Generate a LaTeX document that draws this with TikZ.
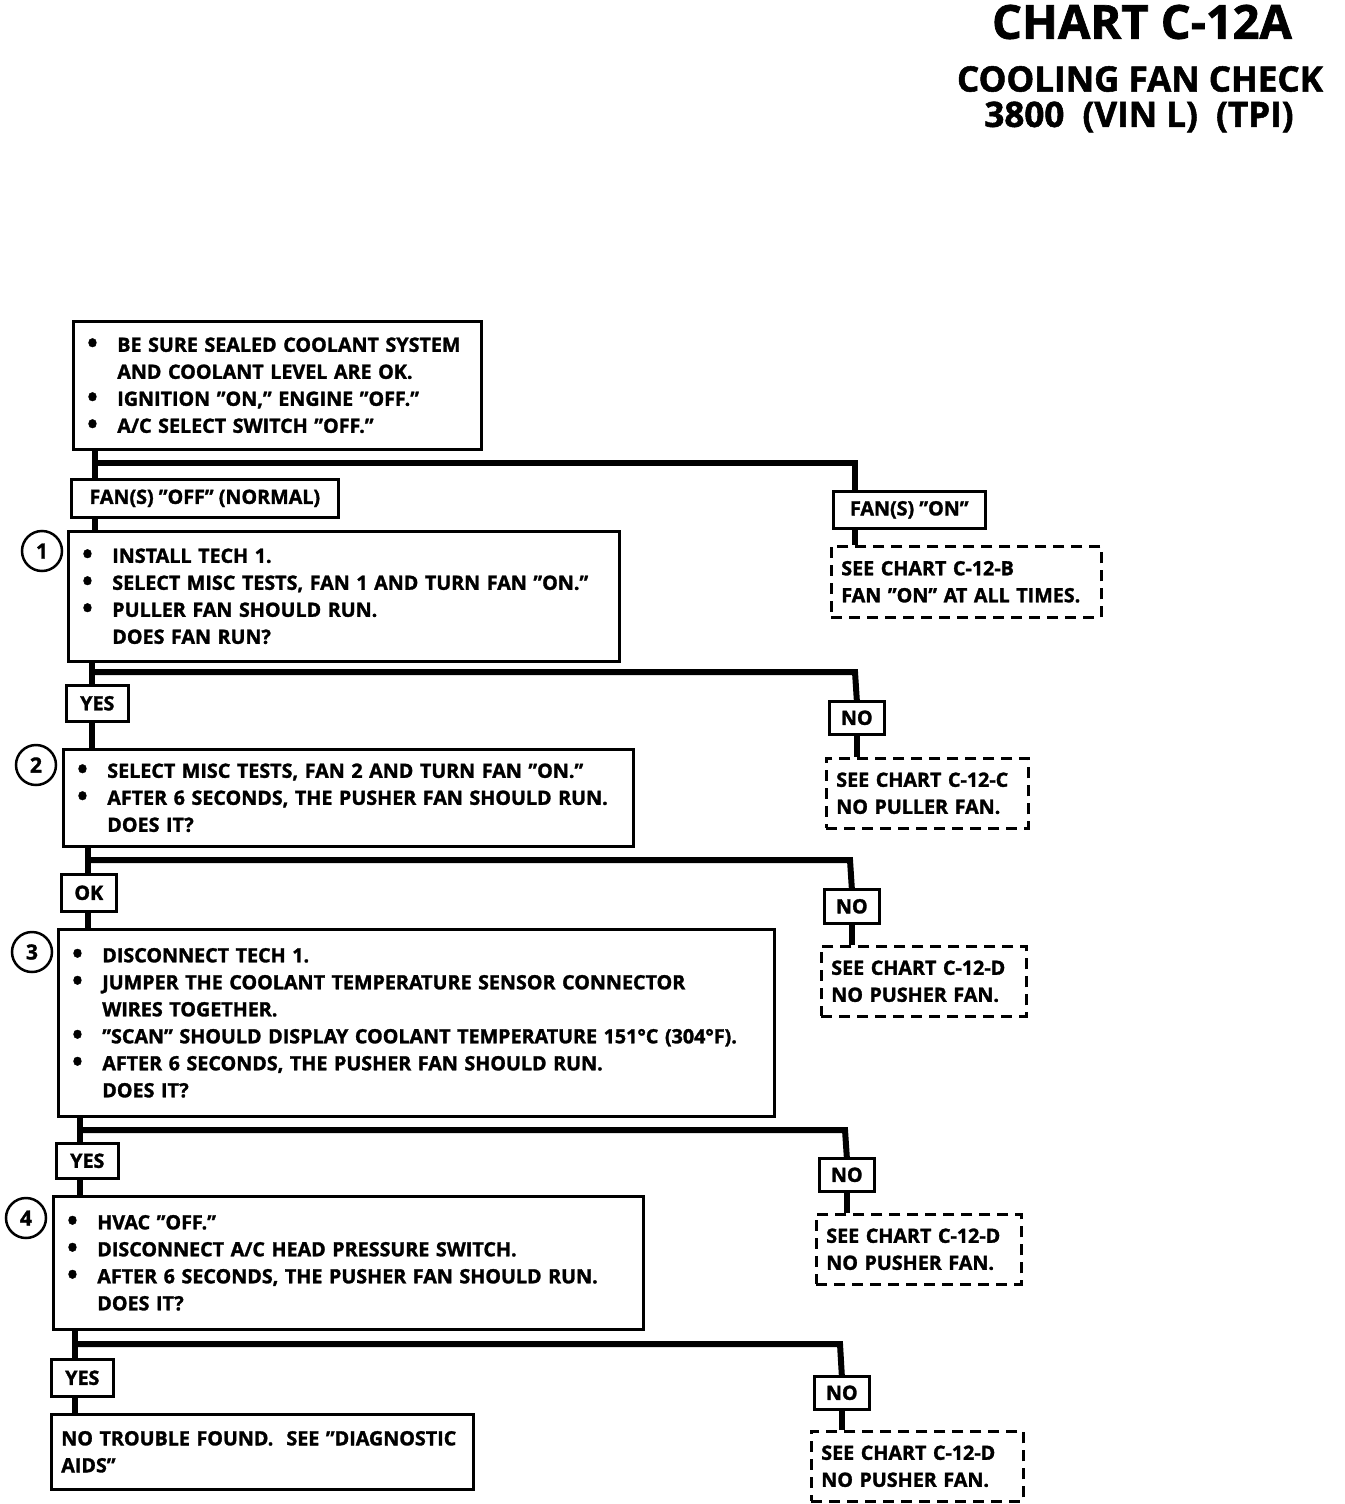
\documentclass[tikz,border=0pt]{standalone}
\usepackage{fontspec}
\setmainfont{Open Sans}[BoldFeatures={FakeBold=1.5}]
\usetikzlibrary{positioning,calc}

\tikzset{
  stepbox/.style={draw, line width=2.6pt, anchor=north west, align=left,
    inner xsep=14pt, inner ysep=4pt, font=\bfseries\fontsize{19.7}{27}\selectfont},
  tagbox/.style={draw, line width=2.6pt, anchor=north west, inner xsep=5pt,
    inner ysep=2pt, font=\bfseries\fontsize{19.7}{20}\selectfont},
  seebox/.style={draw, dashed, dash pattern=on 11pt off 7pt, line width=2.6pt,
    anchor=north west, align=left, inner xsep=10pt, inner ysep=4pt,
    font=\bfseries\fontsize{19.7}{27}\selectfont},
  numcirc/.style={draw, circle, line width=2.5pt, minimum size=40pt, inner sep=0pt,
    font=\bfseries\fontsize{21}{21}\selectfont},
  conn/.style={line width=6pt},
  titletext/.style={font=\bfseries\fontsize{#1}{#1}\selectfont}
}
\newcommand{\itm}{\makebox[30pt][l]{\smash{\raisebox{-1pt}{\scalebox{1.4}{\textbullet}}}}}
\newcommand{\ind}{\hspace*{30pt}}

\begin{document}
\begin{tikzpicture}[x=1pt,y=-1pt]
\useasboundingbox (0,0) rectangle (1344,1504);

% heading
\node[titletext=47] (t1) at (1142,22) {CHART C-12A};
\node[titletext=35] (t2) at (1140,79) {COOLING FAN CHECK};
\node[titletext=35] (t3) at (1139,117) {3800\ \ (VIN L)\ \ (TPI)};

% start
\node[stepbox, text width=380pt, minimum height=128pt] (b0) at (72,320)
  {\itm BE SURE SEALED COOLANT SYSTEM\\ \ind AND COOLANT LEVEL ARE OK.\\
   \itm IGNITION "ON," ENGINE "OFF."\\ \itm A/C SELECT SWITCH "OFF."};
\node[tagbox, minimum width=267pt, minimum height=38pt] (lOff) at (70,478) {FAN(S) "OFF" (NORMAL)};
\node[tagbox, minimum width=152pt, minimum height=37pt] (lOn) at (832,490) {FAN(S) "ON"};
\node[seebox, text width=250pt, minimum height=71pt] (d1) at (830,545)
  {SEE CHART C-12-B\\ FAN "ON" AT ALL TIMES.};

% step 1
\node[stepbox, text width=523pt, minimum height=130pt] (b1) at (67,530)
  {\itm INSTALL TECH 1.\\ \itm SELECT MISC TESTS, FAN 1 AND TURN FAN "ON."\\
   \itm PULLER FAN SHOULD RUN.\\ \ind DOES FAN RUN?};
\node[numcirc] (c1) at (42,551) {1};
\node[tagbox, minimum width=62pt, minimum height=36pt] (yes1) at (65,684) {YES};
\node[tagbox, minimum width=55pt, minimum height=33pt] (no1) at (828,700) {NO};
\node[seebox, text width=182pt, minimum height=70pt] (d2) at (825,757)
  {SEE CHART C-12-C\\ NO PULLER FAN.};

% step 2
\node[stepbox, text width=542pt, minimum height=97pt] (b2) at (62,748)
  {\itm SELECT MISC TESTS, FAN 2 AND TURN FAN "ON."\\
   \itm AFTER 6 SECONDS, THE PUSHER FAN SHOULD RUN.\\ \ind DOES IT?};
\node[numcirc] (c2) at (36,765) {2};
\node[tagbox, minimum width=55pt, minimum height=37pt] (ok2) at (60,873) {OK};
\node[tagbox, minimum width=55pt, minimum height=34pt] (no2) at (823,888) {NO};
\node[seebox, text width=185pt, minimum height=70pt] (d3) at (820,945)
  {SEE CHART C-12-D\\ NO PUSHER FAN.};

% step 3
\node[stepbox, text width=688pt, minimum height=187pt] (b3) at (57,928)
  {\itm DISCONNECT TECH 1.\\
   \itm JUMPER THE COOLANT TEMPERATURE SENSOR CONNECTOR\\ \ind WIRES TOGETHER.\\
   \itm "SCAN" SHOULD DISPLAY COOLANT TEMPERATURE 151°C (304°F).\\
   \itm AFTER 6 SECONDS, THE PUSHER FAN SHOULD RUN.\\ \ind DOES IT?};
\node[numcirc] (c3) at (32,952) {3};
\node[tagbox, minimum width=62pt, minimum height=35pt] (yes3) at (55,1142) {YES};
\node[tagbox, minimum width=55pt, minimum height=33pt] (no3) at (818,1157) {NO};
\node[seebox, text width=185pt, minimum height=70pt] (d4) at (815,1213)
  {SEE CHART C-12-D\\ NO PUSHER FAN.};

% step 4
\node[stepbox, text width=562pt, minimum height=133pt] (b4) at (52,1195)
  {\itm HVAC "OFF."\\ \itm DISCONNECT A/C HEAD PRESSURE SWITCH.\\
   \itm AFTER 6 SECONDS, THE PUSHER FAN SHOULD RUN.\\ \ind DOES IT?};
\node[numcirc] (c4) at (26,1218) {4};
\node[tagbox, minimum width=62pt, minimum height=37pt] (yes4) at (50,1358) {YES};
\node[tagbox, minimum width=55pt, minimum height=33pt] (no4) at (813,1375) {NO};
\node[seebox, text width=192pt, minimum height=70pt] (d5) at (810,1430)
  {SEE CHART C-12-D\\ NO PUSHER FAN.};
\node[stepbox, inner xsep=10pt, text width=402pt, minimum height=75pt] (fin) at (50,1413)
  {NO TROUBLE FOUND.\ \ SEE "DIAGNOSTIC\\ AIDS"};

% connectors
\coordinate (j0) at (95,463);   \coordinate (r0) at (855,463);
\coordinate (j1) at (92,672);   \coordinate (r1) at (855,672);
\coordinate (j2) at (88,860);   \coordinate (r2) at (850,860);
\coordinate (j3) at (80,1130);  \coordinate (r3) at (845,1130);
\coordinate (j4) at (75,1344);  \coordinate (r4) at (840,1344);

\draw[conn] (b0.south -| j0) -- (lOff.north -| j0);
\draw[conn] (j0) -- (r0) -- (r0 |- lOn.north);
\draw[conn] (lOff.south -| j0) -- (b1.north -| j0);
\draw[conn] (lOn.south -| r0) -- (d1.north -| r0);

\draw[conn] (b1.south -| j1) -- (yes1.north -| j1);
\draw[conn] (j1) -- (r1) -- (no1.north);
\draw[conn] (yes1.south -| j1) -- (b2.north -| j1);
\draw[conn] (no1.south) -- (d2.north -| no1.south);

\draw[conn] (b2.south -| j2) -- (ok2.north -| j2);
\draw[conn] (j2) -- (r2) -- (no2.north);
\draw[conn] (ok2.south -| j2) -- (b3.north -| j2);
\draw[conn] (no2.south) -- (d3.north -| no2.south);

\draw[conn] (b3.south -| j3) -- (yes3.north -| j3);
\draw[conn] (j3) -- (r3) -- (no3.north);
\draw[conn] (yes3.south -| j3) -- (b4.north -| j3);
\draw[conn] (no3.south) -- (d4.north -| no3.south);

\draw[conn] (b4.south -| j4) -- (yes4.north -| j4);
\draw[conn] (j4) -- (r4) -- (no4.north);
\draw[conn] (yes4.south -| j4) -- (fin.north -| j4);
\draw[conn] (no4.south) -- (d5.north -| no4.south);
\end{tikzpicture}
\end{document}
